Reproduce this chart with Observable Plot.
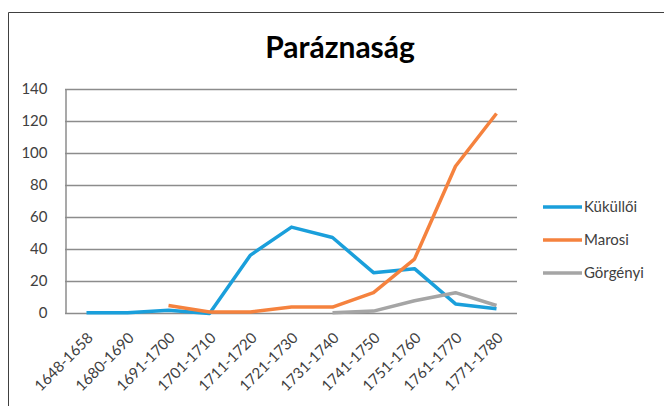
<!DOCTYPE html>
<html><head><meta charset="utf-8">
<script src="https://cdn.jsdelivr.net/npm/d3@7"></script>
<script src="https://cdn.jsdelivr.net/npm/@observablehq/plot@0.6"></script>
<style>
html,body{margin:0;padding:0;background:#fff;}
#chart{position:relative;width:664px;height:406px;overflow:hidden;}
</style></head>
<body><div id="chart"></div>
<script>
const title = "Paráznaság";
const periods = ["1648-1658","1680-1690","1691-1700","1701-1710","1711-1720","1721-1730","1731-1740","1741-1750","1751-1760","1761-1770","1771-1780"];
const kukulloi = [0.5, 0.5, 2, 0, 36.5, 54, 47.5, 25.5, 28, 6, 3];
const marosi   = [null, null, 5, 1, 1, 4, 4, 13, 34, 92, 125];
const gorgenyi = [null, null, null, null, null, null, 0.5, 1.5, 8, 13, 5];
const seriesNames = ["Küküllői","Marosi","Görgényi"];
const colors = ["#1a9fdb","#f5823e","#a5a5a5"];
const yTicks = [0,20,40,60,80,100,120,140];

const allSeries = [kukulloi, marosi, gorgenyi];
const rows = [];
allSeries.forEach((vals, si) => vals.forEach((v, i) => {
  if (v !== null) rows.push({period: periods[i], value: v, series: seriesNames[si]});
}));

const font = "Lato, 'Open Sans', sans-serif";
const chart = Plot.plot({
  width: 664, height: 406,
  marginLeft: 65, marginRight: 147, marginTop: 89, marginBottom: 93,
  style: {fontFamily: font, fontSize: "15px", color: "#404040", background: "#fff"},
  x: {type: "point", domain: periods, padding: 0.5, label: null},
  y: {domain: [0, 140], label: null},
  color: {domain: seriesNames, range: colors},
  marks: [
    Plot.gridY(yTicks, {stroke: "#8c8c8c", strokeOpacity: 1, strokeWidth: 1.5}),
    Plot.ruleX([periods[0]], {stroke: "#8c8c8c", strokeWidth: 1.5, dx: -20.5, y1: 0, y2: 140}),
    Plot.line(rows, {x: "period", y: "value", z: "series", stroke: "series", strokeWidth: 3.5, strokeLinejoin: "round", strokeLinecap: "butt"}),
    Plot.axisY({ticks: yTicks, tickSize: 0, tickPadding: 18, fontSize: 15, fill: "#404040"}),
    Plot.axisX({tickSize: 0, tickRotate: -45, tickPadding: 22, dx: 4, fontSize: 15, fill: "#404040"})
  ]
});
document.getElementById("chart").appendChild(chart);

// frame border lines (top and left) + title + legend
const svg = d3.select(chart);
svg.append("line").attr("x1", 8.5).attr("x2", 664).attr("y1", 12.5).attr("y2", 12.5).attr("stroke", "#404040").attr("stroke-width", 1);
svg.append("line").attr("x1", 8.5).attr("x2", 8.5).attr("y1", 12.5).attr("y2", 406).attr("stroke", "#404040").attr("stroke-width", 1);
svg.append("text").attr("x", 340).attr("y", 58).attr("text-anchor", "middle")
  .attr("font-family", font).attr("font-size", 30).attr("font-weight", "bold").attr("fill", "#000").text(title);
const leg = svg.append("g").attr("text-anchor", "start");
seriesNames.forEach((n, i) => {
  const y = 207 + i * 33;
  leg.append("line").attr("x1", 543).attr("x2", 582).attr("y1", y).attr("y2", y).attr("stroke", colors[i]).attr("stroke-width", 3.5);
  leg.append("text").attr("x", 584).attr("y", y + 5).attr("text-anchor", "start").attr("font-family", font).attr("font-size", 15).attr("fill", "#404040").text(n);
});
</script></body></html>
